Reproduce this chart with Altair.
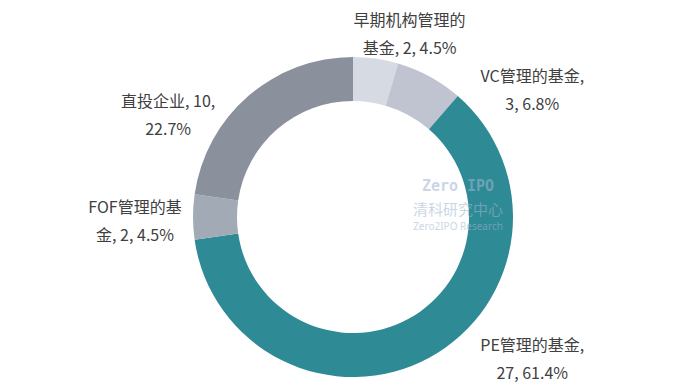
import altair as alt
import pandas as pd

# ---- data ----
categories = ["早期机构管理的基金", "VC管理的基金", "PE管理的基金", "FOF管理的基金", "直投企业"]
counts = [2, 3, 27, 2, 10]
percents = ["4.5%", "6.8%", "61.4%", "4.5%", "22.7%"]
label_lines = [
    "早期机构管理的\n基金, 2, 4.5%",
    "VC管理的基金,\n3, 6.8%",
    "PE管理的基金,\n27, 61.4%",
    "FOF管理的基\n金, 2, 4.5%",
    "直投企业, 10,\n22.7%",
]
colors = ["#d5dae3", "#bfc4d0", "#2e8a94", "#a2aab6", "#8b919c"]

df = pd.DataFrame({
    "cat": categories,
    "count": counts,
    "order": list(range(len(categories))),
    "label": label_lines,
})

# ---- layout (style) ----
CX, CY = 345, 209
R_OUT, R_IN = 160, 116
R_LABEL = 180
LH = 28
offsets = {
    "早期机构管理的基金": (31, -4),
    "VC管理的基金": (93, 32),
    "PE管理的基金": (93, -15),
    "FOF管理的基金": (-38, 5),
    "直投企业": (-67, 35),
}
FONT = "Noto Sans CJK SC"

base = alt.Chart(df).transform_window(
    cum="sum(count)", sort=[alt.SortField("order")], frame=[None, 0]
).transform_calculate(mid="datum.cum - datum.count / 2")

arc = alt.Chart(df).mark_arc(outerRadius=R_OUT, innerRadius=R_IN).encode(
    theta=alt.Theta("count:Q", stack=True),
    order=alt.Order("order:Q"),
    color=alt.Color("cat:N", scale=alt.Scale(domain=categories, range=colors), legend=None),
    x=alt.value(CX),
    y=alt.value(CY),
)

layers = [arc]
for c in categories:
    dx, dy = offsets[c]
    t = base.transform_filter(alt.datum.cat == c).mark_text(
        font=FONT, fontSize=16, color="#404040", lineBreak="\n", lineHeight=LH,
        align="center", baseline="middle", dx=dx, dy=dy - LH / 2,
    ).encode(
        theta=alt.Theta("mid:Q", scale=alt.Scale(domain=[0, sum(counts)])),
        radius=alt.value(R_LABEL),
        text="label:N",
        x=alt.value(CX),
        y=alt.value(CY),
    )
    layers.append(t)

# faint watermark
wm1 = alt.Chart(pd.DataFrame({"t": ["Zero  IPO"]})).mark_text(
    font="DejaVu Sans Mono", fontSize=15, fontWeight="bold", color="#9fb6d3", opacity=0.55,
    align="center", baseline="middle"
).encode(text="t:N", x=alt.value(450), y=alt.value(178))
wm2 = alt.Chart(pd.DataFrame({"t": ["清科研究中心"]})).mark_text(
    font=FONT, fontSize=15, color="#9fb6d3", opacity=0.55, align="center", baseline="middle"
).encode(text="t:N", x=alt.value(450), y=alt.value(202))
wm3 = alt.Chart(pd.DataFrame({"t": ["Zero2IPO Research"]})).mark_text(
    font="Noto Sans", fontSize=10, color="#9fb6d3", opacity=0.55, align="center", baseline="middle"
).encode(text="t:N", x=alt.value(450), y=alt.value(219))

chart = alt.layer(*layers, wm1, wm2, wm3).resolve_scale(theta="independent").properties(
    width=684, height=381, padding=0, autosize=alt.AutoSizeParams(type="none")
).configure(background="white", view=alt.ViewConfig(stroke=None))

chart.save("out.html", embed_options={"renderer": "svg", "actions": False})
